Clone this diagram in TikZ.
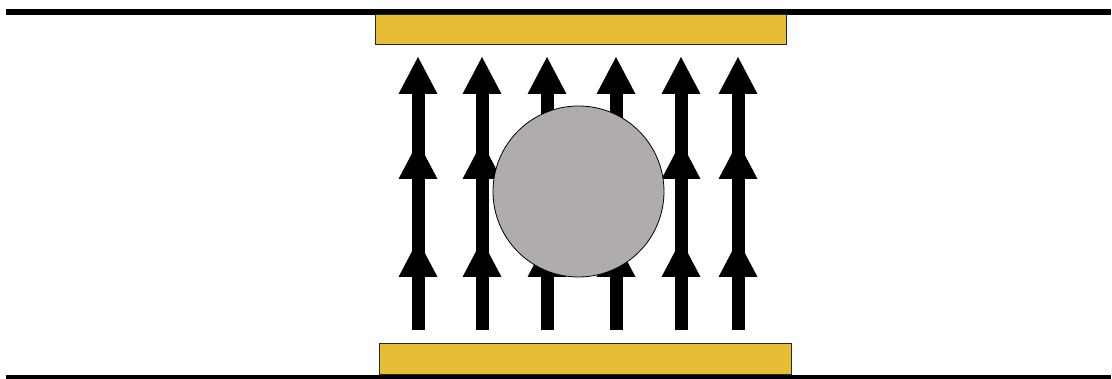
\documentclass[tikz,border=0pt]{standalone}
\usepackage{xcolor}
\usepackage{tikz}
\usetikzlibrary{arrows.meta, calc}
\definecolor{plateyellow}{RGB}{230,189,53}
\definecolor{ballgrey}{RGB}{176,172,171}
\tikzset{
  rail/.style   = {line width=6pt, black},
  plate/.style  = {draw=black!85, line width=1pt, fill=plateyellow},
  shaft/.style  = {line width=13pt, black},
  head/.style   = {fill=black},
  ball/.style   = {circle, draw=black, line width=0.8pt, fill=ballgrey,
                   minimum size=171pt, inner sep=0pt},
}

\begin{document}
\begin{tikzpicture}[x=1pt, y=-1pt]

    \useasboundingbox (0,0) rectangle (1112,379);

    %% Rails and plates
    \coordinate (tl) at (6,12);
    \coordinate (tr) at (1111,12);
    \coordinate (bl) at (6,378);
    \coordinate (br) at (1111,378);
    \draw[rail] (tl) -- (tr);
    \draw[rail] (bl) -- (br);
    \draw[plate] (375,15) rectangle (786,45);
    \draw[plate] (379,344) rectangle (791,375);

    %% Field lines, each with three heads
    \foreach \x in {418,482,547,616,681,738} {
      \draw[shaft] (\x,330) -- (\x,94);
      \foreach \y in {57,142,240}
        \fill[head] (\x-19.5,\y+37) -- (\x,\y) -- (\x+19.5,\y+37) -- cycle;
    }

    %% Sphere in the gap
    \node[ball] (sphere) at (578.5,191.5) {};

\end{tikzpicture}
\end{document}
